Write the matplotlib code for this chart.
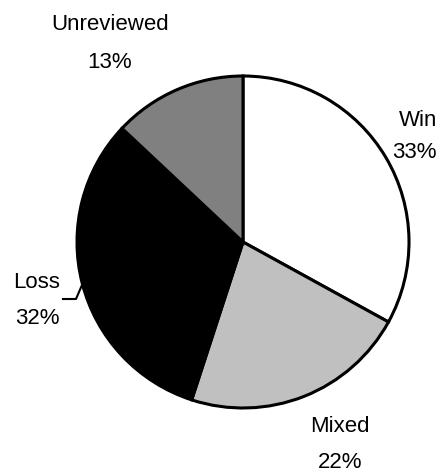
import matplotlib
matplotlib.use("Agg")
import matplotlib.pyplot as plt

labels = ["Win", "Mixed", "Loss", "Unreviewed"]
shares = [33, 22, 32, 13]
colors = ["#ffffff", "#c0c0c0", "#000000", "#808080"]

plt.rcParams["font.family"] = ["Liberation Sans", "DejaVu Sans"]

W, H = 441, 476
fig = plt.figure(figsize=(W / 100, H / 100), dpi=100)
ax = fig.add_axes([0, 0, 1, 1])

cx, cy, r = 243, H - 242, 166
ax.pie(shares, colors=colors, startangle=90, counterclock=False,
       center=(cx, cy), radius=r, frame=True,
       wedgeprops=dict(edgecolor="black", linewidth=2.2))
ax.set_xlim(0, W)
ax.set_ylim(0, H)
ax.set_aspect("equal")
ax.axis("off")

fs = 16
# (x, y of first line, y of second line) in pixels from top
pos = {
    "Win": (437, 120, 152, "right"),
    "Mixed": (340, 426, 463, "center"),
    "Loss": (37, 282, 318, "center"),
    "Unreviewed": (110, 25, 63, "center"),
}
for lab, val in zip(labels, shares):
    x, y1, y2, ha = pos[lab]
    ax.text(x, H - y1, lab, ha=ha, va="center", fontsize=fs)
    ax.text(x, H - y2, f"{val}%", ha=ha, va="center", fontsize=fs)

# leader line for Loss
ax.plot([63, 76, 82], [H - 299, H - 299, H - 285], color="black", lw=1.5)

fig.savefig("out.png", dpi=100)
